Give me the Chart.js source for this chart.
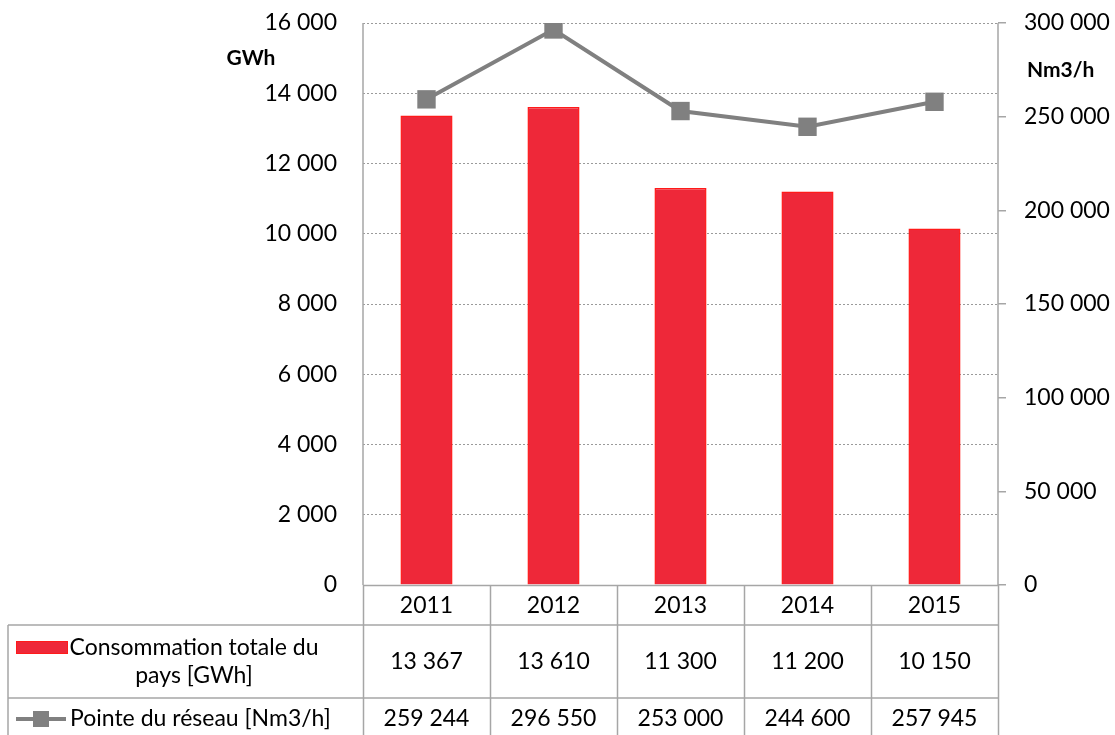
<!DOCTYPE html>
<html>
<head>
<meta charset="utf-8">
<script src="https://cdn.jsdelivr.net/npm/chart.js@4.4.1/dist/chart.umd.min.js"></script>
<style>
  html, body { margin: 0; padding: 0; background: #fff; }
  #wrap { width: 1115px; height: 735px; }
</style>
</head>
<body>
<div id="wrap"><canvas id="chart" width="1115" height="735"></canvas></div>
<script>
// data
const years = ['2011', '2012', '2013', '2014', '2015'];
const consumption = [13367, 13610, 11300, 11200, 10150];   // GWh
const peak = [259244, 296550, 253000, 244600, 257945];      // Nm3/h
const consumptionLabel = ['Consommation totale du', 'pays [GWh]'];
const peakLabel = 'Pointe du réseau [Nm3/h]';

const FONT = 'Lato, "Open Sans", sans-serif';
const BAR_FILL = '#ee2839';
const BAR_EDGE = '#ff1a1a';
const LINE_GREY = '#808080';
const RULE = '#a6a6a6';

function fmt(n) {
    return String(n).replace(/\B(?=(\d{3})+(?!\d))/g, ' ');
}

// draws the data table under the plot, the axis lines and the unit labels
const tablePlugin = {
    id: 'dataTable',
    afterDraw(chart) {
        const ctx = chart.ctx;
        const area = chart.chartArea;
        const x = chart.scales.x;
        const yL = chart.scales.y;
        const yR = chart.scales.y1;
        const left = 8;
        const top = area.bottom;
        const r1 = top + 40;
        const r2 = r1 + 73;
        const r3 = 760;
        const colW = (area.right - area.left) / years.length;

        ctx.save();
        ctx.strokeStyle = RULE;
        ctx.lineWidth = 1.5;
        ctx.beginPath();
        // axis lines
        ctx.moveTo(area.left, area.top);
        ctx.lineTo(area.left, top);
        ctx.moveTo(area.right, area.top);
        ctx.lineTo(area.right, top);
        ctx.moveTo(area.left, top + 0.5);
        ctx.lineTo(area.right, top + 0.5);
        // row rules
        ctx.moveTo(left, r1);
        ctx.lineTo(area.right, r1);
        ctx.moveTo(left, r2);
        ctx.lineTo(area.right, r2);
        // left border of the label column
        ctx.moveTo(left, r1);
        ctx.lineTo(left, r3);
        // column rules
        for (let i = 0; i <= years.length; i++) {
            const cx = Math.round(area.left + i * colW) + 0.5;
            ctx.moveTo(cx, top);
            ctx.lineTo(cx, r3);
        }
        ctx.stroke();

        ctx.fillStyle = '#000';
        ctx.font = '23px ' + FONT;
        ctx.textAlign = 'center';
        ctx.textBaseline = 'middle';
        years.forEach((yr, i) => {
            const cx = x.getPixelForValue(i);
            ctx.fillText(yr, cx, (top + r1) / 2 + 1);
            ctx.fillText(fmt(consumption[i]), cx, (r1 + r2) / 2);
            ctx.fillText(fmt(peak[i]), cx, r2 + 21);
        });

        // legend keys
        ctx.fillStyle = BAR_FILL;
        ctx.fillRect(16, 641, 52, 13);
        ctx.strokeStyle = BAR_EDGE;
        ctx.lineWidth = 1;
        ctx.strokeRect(16.5, 641.5, 51, 12);

        ctx.strokeStyle = LINE_GREY;
        ctx.lineWidth = 4;
        ctx.beginPath();
        ctx.moveTo(16, r2 + 21);
        ctx.lineTo(66, r2 + 21);
        ctx.stroke();
        ctx.fillStyle = LINE_GREY;
        ctx.fillRect(33, r2 + 13, 16, 16);

        ctx.fillStyle = '#000';
        ctx.fillText(consumptionLabel[0], 194, 648);
        ctx.fillText(consumptionLabel[1], 194, 676);
        ctx.textAlign = 'left';
        ctx.fillText(peakLabel, 70, r2 + 21);

        // unit labels
        ctx.font = 'bold 21px ' + FONT;
        ctx.textAlign = 'center';
        ctx.fillText('GWh', 251, yL.getPixelForValue(15000));
        ctx.textAlign = 'left';
        ctx.fillText('Nm3/h', 1027, yR.getPixelForValue(275000));
        ctx.restore();
    }
};

// keep the value axes from pushing the plot down for their end labels
function fixAxis(width) {
    return scale => {
        scale.width = width;
        scale.paddingTop = 0;
        scale.paddingBottom = 0;
    };
}

new Chart(document.getElementById('chart'), {
    data: {
        labels: years,
        datasets: [
            {
                type: 'line',
                label: peakLabel,
                data: peak,
                yAxisID: 'y1',
                order: 0,
                borderColor: LINE_GREY,
                borderWidth: 4,
                pointStyle: 'rect',
                pointRadius: 13,
                pointBackgroundColor: LINE_GREY,
                pointBorderWidth: 0,
                tension: 0
            },
            {
                type: 'bar',
                label: consumptionLabel.join(' '),
                data: consumption,
                yAxisID: 'y',
                order: 1,
                backgroundColor: BAR_FILL,
                borderColor: BAR_EDGE,
                borderWidth: 1.5,
                barPercentage: 0.41,
                categoryPercentage: 1
            }
        ]
    },
    options: {
        responsive: false,
        animation: false,
        layout: { padding: { top: 23, bottom: 150, left: 0, right: 0 } },
        plugins: { legend: { display: false }, tooltip: { enabled: false } },
        scales: {
            x: { display: false, offset: true },
            y: {
                position: 'left',
                min: 0,
                max: 16000,
                afterFit: fixAxis(363),
                border: { display: false, dash: [2, 2] },
                grid: { color: '#9a9a9a', drawTicks: false, lineWidth: 1 },
                ticks: {
                    stepSize: 2000,
                    padding: 26,
                    color: '#000',
                    font: { family: FONT, size: 23 },
                    callback: v => fmt(v)
                }
            },
            y1: {
                position: 'right',
                min: 0,
                max: 300000,
                afterFit: fixAxis(117),
                border: { display: false },
                grid: { drawOnChartArea: false, color: RULE, tickLength: 8, lineWidth: 1.5 },
                ticks: {
                    stepSize: 50000,
                    padding: 18,
                    color: '#000',
                    font: { family: FONT, size: 23 },
                    callback: v => fmt(v)
                }
            }
        }
    },
    plugins: [tablePlugin]
});
</script>
</body>
</html>
